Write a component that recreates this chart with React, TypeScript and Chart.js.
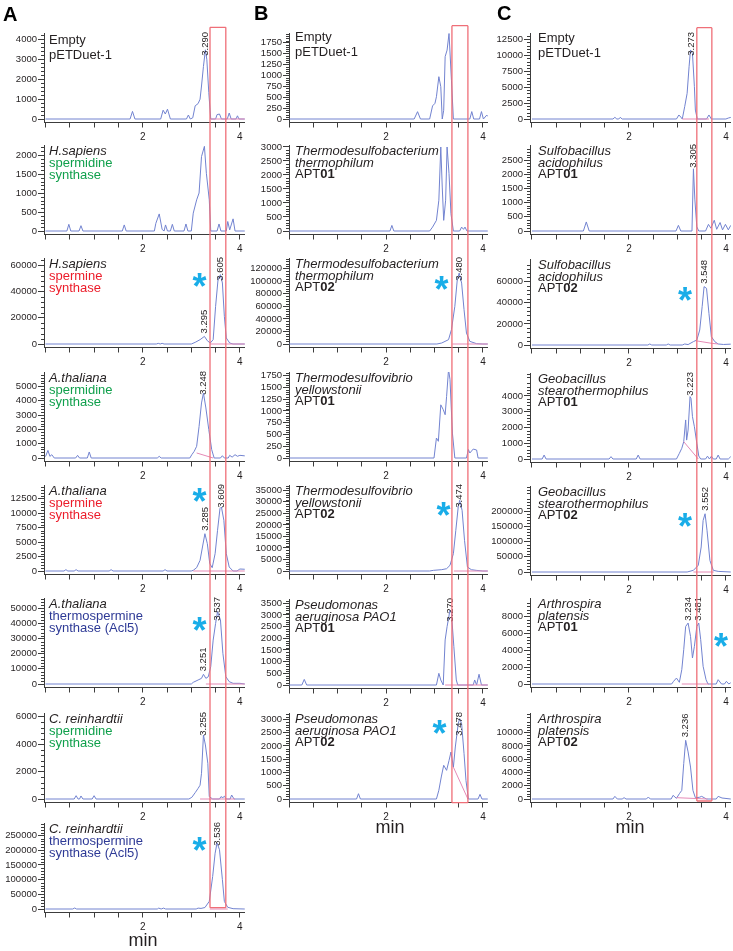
import React, { useEffect, useRef } from "react";
import { Chart, registerables } from "chart.js";

Chart.register(...registerables);

type Pt = [number, number];
type Peak = [number, string];
type Seg = [string, string];

// ================= Column A data =================
const A1_trace: Pt[] = [
  [0, 0], [1.74, 0], [1.79, 380], [1.84, 0],
  [2.37, 0], [2.42, 440], [2.465, 250], [2.51, 490], [2.57, 0],
  [2.9, 0], [2.94, 200], [2.98, 0],
  [3.03, 60], [3.08, 660], [3.14, 770], [3.18, 990], [3.21, 1650], [3.25, 2630], [3.29, 3460], [3.32, 2960], [3.36, 1320], [3.4, 0],
  [3.5, 0], [3.53, 220], [3.58, 250], [3.62, 0],
  [3.74, 0], [3.78, 300], [3.82, 0],
  [3.92, 0], [3.95, 160], [3.98, 0], [4.1, 0],
];
const A1_base: Pt[] = [[3.4, 0], [4.1, 0]];
const A1_peaks: Peak[] = [[3.29, "3.290"]];
const A1_yTicks = [0, 1000, 2000, 3000, 4000];

const A2_trace: Pt[] = [
  [0, 0], [0.44, 0], [0.48, 176], [0.52, 0],
  [0.69, 0], [0.73, 140], [0.77, 0],
  [1.58, 0], [1.62, 160], [1.66, 0],
  [2.24, 0], [2.27, 200], [2.34, 450], [2.4, 40], [2.44, 0], [2.47, 160], [2.51, 0], [2.57, 0], [2.61, 176], [2.65, 0],
  [2.85, 0], [2.89, 185], [2.93, 0],
  [3.0, 0], [3.04, 470], [3.11, 820], [3.16, 1000], [3.21, 1960], [3.27, 2230], [3.31, 1520], [3.37, 820], [3.4, 0],
  [3.53, 0], [3.57, 185], [3.61, 0],
  [3.72, 0], [3.75, 250], [3.79, 30], [3.86, 320], [3.9, 0], [4.1, 0],
];
const A2_peaks: Peak[] = [];
const A2_yTicks = [0, 500, 1000, 1500, 2000];

const A3_trace: Pt[] = [
  [0, 0], [2.28, 0], [2.32, 500], [2.36, 0], [2.4, 500], [2.44, 0],
  [3.0, 0], [3.08, 1270], [3.18, 3300], [3.27, 5800], [3.33, 2500], [3.39, 760],
  [3.45, 3300], [3.5, 28700], [3.55, 49000], [3.6, 52900], [3.64, 46500], [3.68, 21100], [3.72, 4600], [3.79, 760], [3.86, 0], [4.1, 0],
];
const A3_base: Pt[] = [[3.39, 0], [4.1, 0]];
const A3_peaks: Peak[] = [[3.27, "3.295"], [3.6, "3.605"]];
const A3_yTicks = [0, 20000, 40000, 60000];

const A4_trace: Pt[] = [
  [0, 100], [0.05, 530], [0.09, 116], [0.13, 230], [0.18, 0],
  [0.62, 0], [0.66, 186], [0.7, 0], [0.86, 0], [0.9, 420], [0.94, 0],
  [2.3, 0], [2.34, 116], [2.38, 0],
  [2.97, 0], [3.01, 230], [3.06, 465], [3.11, 814], [3.16, 2200], [3.21, 3840], [3.25, 4530], [3.3, 3490], [3.36, 1980], [3.42, 580], [3.47, 0],
  [3.6, 0], [3.64, 160], [3.68, 0], [3.76, 0], [3.79, 186], [3.84, 60], [3.9, 230], [3.95, 120], [4.0, 186], [4.1, 150],
];
const A4_base: Pt[] = [[3.11, 350], [3.45, 0]];
const A4_peaks: Peak[] = [[3.25, "3.248"]];
const A4_yTicks = [0, 1000, 2000, 3000, 4000, 5000];

const A5_trace: Pt[] = [
  [0, 0], [0.38, 0], [0.42, 230], [0.46, 0], [0.59, 0], [0.63, 230], [0.67, 0], [1.31, 0], [1.35, 230], [1.39, 0], [2.42, 0], [2.46, 230], [2.5, 0],
  [3.0, 0], [3.04, 115], [3.11, 576], [3.18, 1840], [3.23, 4150], [3.28, 6450], [3.33, 4720], [3.38, 1270], [3.43, 576],
  [3.49, 3000], [3.54, 7030], [3.59, 10800], [3.62, 11060], [3.67, 8760], [3.72, 3000], [3.78, 690], [3.86, 0], [3.94, 0], [4.0, 345], [4.1, 300],
];
const A5_base: Pt[] = [[3.04, 0], [4.1, 0]];
const A5_peaks: Peak[] = [[3.28, "3.285"], [3.62, "3.609"]];
const A5_yTicks = [0, 2500, 5000, 7500, 10000, 12500];

const A6_trace: Pt[] = [
  [0, 0], [3.0, 0], [3.04, 1100], [3.14, 2640], [3.21, 3740], [3.25, 6400], [3.3, 3740], [3.35, 4800], [3.4, 11450],
  [3.45, 29000], [3.5, 40000], [3.54, 47800], [3.6, 42300], [3.65, 20260], [3.71, 4850], [3.78, 1540], [3.86, 440], [4.0, 440], [4.1, 0],
];
const A6_base: Pt[] = [[3.3, 0], [4.1, 0]];
const A6_peaks: Peak[] = [[3.25, "3.251"], [3.54, "3.537"]];
const A6_yTicks = [0, 10000, 20000, 30000, 40000, 50000];

const A7_trace: Pt[] = [
  [0, 0], [0.59, 0], [0.63, 240], [0.67, 0], [0.7, 0], [0.73, 220], [0.77, 0], [0.96, 0], [1.0, 240], [1.04, 0],
  [2.95, 0], [3.01, 120], [3.08, 460], [3.14, 775], [3.18, 1000], [3.21, 1870], [3.25, 4650], [3.29, 3930], [3.34, 2600], [3.37, 170], [3.44, 0],
  [3.58, 0], [3.61, 170], [3.65, 100], [3.68, 200], [3.72, 0], [3.8, 0], [3.83, 290], [3.88, 0], [4.1, 0],
];
const A7_base: Pt[] = [[3.18, 0], [3.9, 0]];
const A7_peaks: Peak[] = [[3.25, "3.255"]];
const A7_yTicks = [0, 2000, 4000, 6000];

const A8_trace: Pt[] = [
  [0, 0], [0.56, 0], [0.6, 3400], [0.64, 0], [2.3, 0], [2.33, 3000], [2.38, 0], [2.43, 3000], [2.47, 0],
  [3.1, 0], [3.14, 3000], [3.2, 2000], [3.28, 5000], [3.37, 26000], [3.44, 111000], [3.49, 190000], [3.53, 225000],
  [3.58, 202000], [3.64, 100000], [3.68, 26000], [3.75, 5700], [3.86, 1100], [4.1, 0],
];
const A8_base: Pt[] = [[3.38, 0], [3.75, 0]];
const A8_peaks: Peak[] = [[3.53, "3.536"]];
const A8_yTicks = [0, 50000, 100000, 150000, 200000, 250000];

// ================= Column B data =================
const B1_trace: Pt[] = [
  [0, 0], [2.58, 0], [2.65, 168], [2.71, 0],
  [2.9, 0], [2.96, 300], [3.01, 360], [3.04, 510], [3.09, 970], [3.13, 740], [3.16, 0], [3.19, 200], [3.22, 1430], [3.26, 1580], [3.3, 1960], [3.35, 890], [3.39, 0],
  [3.73, 0], [3.77, 170], [3.81, 0], [3.93, 0], [3.97, 170], [4.01, 0], [4.08, 90], [4.1, 60],
];
const B1_peaks: Peak[] = [];
const B1_yTicks = [0, 250, 500, 750, 1000, 1250, 1500, 1750];

const B2_trace: Pt[] = [
  [0, 0], [2.08, 0], [2.12, 200], [2.16, 0],
  [2.9, 0], [2.96, 140], [3.04, 380], [3.09, 1100], [3.13, 3000], [3.16, 1570], [3.19, 380], [3.23, 1100], [3.26, 3000], [3.3, 2050], [3.34, 620], [3.39, 0],
  [3.52, 0], [3.56, 140], [3.6, 60], [3.63, 140], [3.67, 0], [4.1, 0],
];
const B2_peaks: Peak[] = [];
const B2_yTicks = [0, 500, 1000, 1500, 2000, 2500, 3000];

const B3_trace: Pt[] = [
  [0, 0], [3.05, 0], [3.15, 1600], [3.29, 6900], [3.35, 22800], [3.42, 60000], [3.47, 102000], [3.51, 113000],
  [3.56, 97000], [3.61, 54700], [3.66, 17500], [3.73, 4200], [3.87, 500], [4.0, 0], [4.1, 0],
];
const B3_base: Pt[] = [[3.37, 0], [4.1, 0]];
const B3_peaks: Peak[] = [[3.51, "3.480"]];
const B3_yTicks = [0, 20000, 40000, 60000, 80000, 100000, 120000];

const B4_trace: Pt[] = [
  [0, 0], [2.99, 0], [3.04, 425], [3.08, 355], [3.13, 1130], [3.18, 1030], [3.22, 920], [3.25, 1310], [3.29, 1880], [3.32, 1670], [3.37, 530], [3.42, 0],
  [3.66, 0], [3.7, 180], [3.73, 106], [3.8, 190], [3.87, 170], [3.9, 0], [4.1, 0],
];
const B4_peaks: Peak[] = [];
const B4_yTicks = [0, 250, 500, 750, 1000, 1250, 1500, 1750];

const B5_trace: Pt[] = [
  [0, 0], [2.9, 0], [2.98, 290], [3.15, 580], [3.25, 1000], [3.32, 2460], [3.39, 7500], [3.44, 17600], [3.49, 27800], [3.52, 30660],
  [3.57, 26300], [3.62, 13300], [3.68, 1740], [3.76, 580], [3.86, 290], [4.0, 0], [4.1, 0],
];
const B5_base: Pt[] = [[3.4, 0], [4.1, 0]];
const B5_peaks: Peak[] = [[3.52, "3.474"]];
const B5_yTicks = [0, 5000, 10000, 15000, 20000, 25000, 30000, 35000];

const B6_trace: Pt[] = [
  [0, 0], [0.26, 0], [0.31, 240], [0.36, 0],
  [3.04, 0], [3.09, 500], [3.13, 215], [3.18, 0], [3.22, 1930], [3.26, 2500], [3.32, 3210], [3.35, 3070], [3.4, 1640], [3.45, 215], [3.48, 0],
  [3.8, 0], [3.83, 215], [3.87, 0], [3.92, 460], [3.97, 0], [4.1, 0],
];
const B6_base: Pt[] = [[3.22, 0], [4.1, 0]];
const B6_peaks: Peak[] = [[3.32, "3.270"]];
const B6_yTicks = [0, 500, 1000, 1500, 2000, 2500, 3000, 3500];

const B7_trace: Pt[] = [
  [0, 0], [1.39, 0], [1.43, 200], [1.47, 0],
  [3.04, 0], [3.09, 330], [3.14, 830], [3.19, 1270], [3.25, 1080], [3.3, 1450], [3.34, 1770], [3.39, 1200], [3.43, 1960], [3.49, 2840],
  [3.52, 3030], [3.56, 2840], [3.61, 1710], [3.65, 700], [3.7, 0],
  [3.9, 0], [3.94, 175], [3.98, 0], [4.1, 0],
];
const B7_base: Pt[] = [[3.39, 1200], [3.69, 0]];
const B7_peaks: Peak[] = [[3.52, "3.478"]];
const B7_yTicks = [0, 500, 1000, 1500, 2000, 2500, 3000];

// ================= Column C data =================
const C1_trace: Pt[] = [
  [0, 0], [1.67, 0], [1.71, 260], [1.75, 0], [1.79, 0], [1.82, 260], [1.86, 0],
  [2.98, 0], [3.03, 630], [3.07, 300], [3.1, 0], [3.15, 1935], [3.2, 4030], [3.24, 8200], [3.27, 10830], [3.31, 10300], [3.35, 5070], [3.37, 1400], [3.41, 0],
  [3.6, 0], [3.65, 630], [3.7, 0], [4.0, 0], [4.05, 150], [4.1, 250],
];
const C1_base: Pt[] = [[3.1, 0], [3.65, 0]];
const C1_peaks: Peak[] = [[3.28, "3.273"]];
const C1_yTicks = [0, 2500, 5000, 7500, 10000, 12500];

const C2_trace: Pt[] = [
  [0, 0], [1.06, 0], [1.12, 320], [1.18, 0],
  [2.97, 0], [3.02, 200], [3.07, 0],
  [3.3, 0], [3.33, 2200], [3.36, 1100], [3.4, 150], [3.44, 0],
  [3.58, 0], [3.64, 235], [3.69, 100], [3.76, 380], [3.81, 60], [3.88, 300], [3.93, 40], [3.99, 235], [4.05, 40], [4.1, 200],
];
const C2_peaks: Peak[] = [[3.33, "3.305"]];
const C2_yTicks = [0, 500, 1000, 1500, 2000, 2500];

const C3_trace: Pt[] = [
  [0, 0], [2.39, 0], [2.43, 950], [2.47, 0], [2.77, 0], [2.81, 950], [2.85, 0],
  [3.1, 0], [3.15, 950], [3.22, 400], [3.33, 3200], [3.4, 4700], [3.46, 14200], [3.51, 36300], [3.55, 55300], [3.6, 53700],
  [3.65, 30000], [3.7, 7900], [3.77, 3200], [3.84, 950], [3.95, 500], [4.1, 800],
];
const C3_base: Pt[] = [[3.38, 4000], [3.72, 1500], [3.84, 950]];
const C3_peaks: Peak[] = [[3.55, "3.548"]];
const C3_yTicks = [0, 20000, 40000, 60000];

const C4_trace: Pt[] = [
  [0, 0], [0.21, 0], [0.25, 250], [0.29, 0], [1.59, 0], [1.63, 150], [1.67, 0], [2.15, 0], [2.19, 250], [2.23, 0],
  [2.98, 0], [3.04, 360], [3.09, 680], [3.13, 1100], [3.17, 2480], [3.19, 1200], [3.22, 1840], [3.26, 3960], [3.28, 3850], [3.31, 2690],
  [3.35, 2050], [3.4, 1000], [3.44, 190], [3.48, 0],
  [3.58, 0], [3.62, 180], [3.66, 0], [3.7, 180], [3.74, 0], [3.8, 0], [3.84, 250], [3.88, 0], [4.05, 0], [4.1, 150],
];
const C4_base: Pt[] = [[3.13, 1100], [3.43, 0]];
const C4_peaks: Peak[] = [[3.27, "3.223"]];
const C4_yTicks = [0, 1000, 2000, 3000, 4000];

const C5_trace: Pt[] = [
  [0, 0], [3.2, 0], [3.33, 5500], [3.43, 22000], [3.49, 82000], [3.53, 169000], [3.57, 191000], [3.61, 137000], [3.67, 38000], [3.74, 5500], [3.84, 2000], [4.1, 0],
];
const C5_base: Pt[] = [[3.33, 0], [3.75, 0]];
const C5_peaks: Peak[] = [[3.57, "3.552"]];
const C5_yTicks = [0, 50000, 100000, 150000, 200000];

const C6_trace: Pt[] = [
  [0, 0], [2.88, 0], [2.92, 315], [2.98, 700], [3.04, 200], [3.09, 1700], [3.13, 4050], [3.17, 6800], [3.22, 7200], [3.27, 5630], [3.31, 3070],
  [3.35, 4450], [3.4, 6800], [3.44, 7200], [3.48, 5240], [3.53, 2090], [3.59, 510], [3.63, 0],
  [3.8, 0], [3.84, 510], [3.91, 0], [3.97, 0], [4.01, 315], [4.06, 0], [4.1, 150],
];
const C6_base: Pt[] = [[3.09, 0], [3.65, 0]];
const C6_peaks: Peak[] = [[3.22, "3.234"], [3.44, "3.481"]];
const C6_yTicks = [0, 2000, 4000, 6000, 8000];

const C7_trace: Pt[] = [
  [0, 0], [1.67, 0], [1.71, 400], [1.76, 0], [1.86, 0], [1.9, 200], [1.94, 0], [2.36, 0], [2.4, 300], [2.44, 0],
  [2.87, 0], [2.91, 550], [2.98, 100], [3.04, 800], [3.09, 1300], [3.13, 5330], [3.17, 8850], [3.22, 7100], [3.27, 4820], [3.32, 1300], [3.37, 200],
  [3.45, 250], [3.5, 400], [3.55, 200], [3.6, 0], [3.8, 0], [3.84, 400], [3.92, 150], [4.1, 0],
];
const C7_base: Pt[] = [[2.98, 200], [3.62, 0]];
const C7_peaks: Peak[] = [[3.17, "3.236"]];
const C7_yTicks = [0, 2000, 4000, 6000, 8000, 10000];

const X_TICKS = [0, 0.5, 1, 1.5, 2, 2.5, 3, 3.5, 4];
const X_LABELED = [2, 4];

// ================= styles =================
const FONT = '"Liberation Sans", Arial, Helvetica, sans-serif';
const TRACE = "#7283d0";
const PINK = "#e58ab6";
const RECT = "#ef6f78";
const AXIS = "#3c3c3c";
const TXT = "#231f20";
const GREEN = "#10a04c";
const RED = "#ec1c2a";
const BLUE = "#2e3a96";
const CYAN = "#19ade8";

interface Panel {
  trace: Pt[];
  base?: Pt[];
  peaks: Peak[];
  yMax: number;
  yTicks: number[];
  label: Seg[][];
  star?: [number, number];
}

interface Column {
  key: string;
  canvasLeft: number;
  canvasW: number;
  axisW: number;
  xMin: number;
  xMax: number;
  y0: number[];
  rect: [number, number];
  rectTop: number;
  rectBottom: number;
  labelX: number;
  firstLabelTop: number;
  lineH: number;
  letter: [number, number];
  minPos: [number, number];
  panels: Panel[];
}

const EMPTY: Seg[][] = [[["Empty", "n"]], [["pETDuet-1", "n"]]];
const apt = (n: string): Seg[] => [["APT", "n"], [n, "b"]];

const COLS: Column[] = [
  {
    key: "A", canvasLeft: 0, canvasW: 245, axisW: 44, xMin: -0.031, xMax: 4.105,
    y0: [119, 231, 344, 458, 571, 684, 799, 909],
    rect: [3.385, 3.71], rectTop: 27.3, rectBottom: 907.7,
    labelX: 49, firstLabelTop: 32, lineH: 12.2, letter: [3, 4], minPos: [143, 931],
    panels: [
      { trace: A1_trace, base: A1_base, peaks: A1_peaks, yMax: 4300, yTicks: A1_yTicks, label: EMPTY },
      { trace: A2_trace, peaks: A2_peaks, yMax: 2265, yTicks: A2_yTicks, label: [[["H.sapiens", "i"]], [["spermidine", "g"]], [["synthase", "g"]]] },
      { trace: A3_trace, base: A3_base, peaks: A3_peaks, yMax: 65570, yTicks: A3_yTicks, label: [[["H.sapiens", "i"]], [["spermine", "r"]], [["synthase", "r"]]], star: [199.5, 279] },
      { trace: A4_trace, base: A4_base, peaks: A4_peaks, yMax: 6000, yTicks: A4_yTicks, label: [[["A.thaliana", "i"]], [["spermidine", "g"]], [["synthase", "g"]]] },
      { trace: A5_trace, base: A5_base, peaks: A5_peaks, yMax: 14870, yTicks: A5_yTicks, label: [[["A.thaliana", "i"]], [["spermine", "r"]], [["synthase", "r"]]], star: [199.5, 494] },
      { trace: A6_trace, base: A6_base, peaks: A6_peaks, yMax: 56800, yTicks: A6_yTicks, label: [[["A.thaliana", "i"]], [["thermospermine", "u"]], [["synthase (Acl5)", "u"]]], star: [199.5, 622.5] },
      { trace: A7_trace, base: A7_base, peaks: A7_peaks, yMax: 6255, yTicks: A7_yTicks, label: [[["C. reinhardtii", "i"]], [["spermidine", "g"]], [["synthase", "g"]]] },
      { trace: A8_trace, base: A8_base, peaks: A8_peaks, yMax: 293000, yTicks: A8_yTicks, label: [[["C. reinhardtii", "i"]], [["thermospermine", "u"]], [["synthase (Acl5)", "u"]]], star: [199.5, 842.5] },
    ],
  },
  {
    key: "B", canvasLeft: 245, canvasW: 243, axisW: 44, xMin: -0.005, xMax: 4.105,
    y0: [119, 231, 344, 458, 571, 685, 799],
    rect: [3.36, 3.69], rectTop: 25.7, rectBottom: 802.7,
    labelX: 295, firstLabelTop: 29, lineH: 11.6, letter: [254, 3], minPos: [390, 818],
    panels: [
      { trace: B1_trace, peaks: B1_peaks, yMax: 1972, yTicks: B1_yTicks, label: EMPTY },
      { trace: B2_trace, peaks: B2_peaks, yMax: 3071, yTicks: B2_yTicks, label: [[["Thermodesulfobacterium", "i"]], [["thermophilum", "i"]], apt("01")] },
      { trace: B3_trace, base: B3_base, peaks: B3_peaks, yMax: 137000, yTicks: B3_yTicks, label: [[["Thermodesulfobacterium", "i"]], [["thermophilum", "i"]], apt("02")], star: [441.5, 281.5] },
      { trace: B4_trace, peaks: B4_peaks, yMax: 1828, yTicks: B4_yTicks, label: [[["Thermodesulfovibrio", "i"]], [["yellowstonii", "i"]], apt("01")] },
      { trace: B5_trace, base: B5_base, peaks: B5_peaks, yMax: 37300, yTicks: B5_yTicks, label: [[["Thermodesulfovibrio", "i"]], [["yellowstonii", "i"]], apt("02")], star: [443.5, 507.5] },
      { trace: B6_trace, base: B6_base, peaks: B6_peaks, yMax: 3685, yTicks: B6_yTicks, label: [[["Pseudomonas", "i"]], [["aeruginosa PAO1", "i"]], apt("01")] },
      { trace: B7_trace, base: B7_base, peaks: B7_peaks, yMax: 3241, yTicks: B7_yTicks, label: [[["Pseudomonas", "i"]], [["aeruginosa PAO1", "i"]], apt("02")], star: [439.5, 726] },
    ],
  },
  {
    key: "C", canvasLeft: 488, canvasW: 243, axisW: 42, xMin: -0.041, xMax: 4.105,
    y0: [119, 231, 345, 459, 572, 684, 799],
    rect: [3.4, 3.71], rectTop: 27.7, rectBottom: 801,
    labelX: 538, firstLabelTop: 29.5, lineH: 11.6, letter: [497, 3], minPos: [630, 818],
    panels: [
      { trace: C1_trace, base: C1_base, peaks: C1_peaks, yMax: 13490, yTicks: C1_yTicks, label: EMPTY },
      { trace: C2_trace, peaks: C2_peaks, yMax: 3041, yTicks: C2_yTicks, label: [[["Sulfobacillus", "i"]], [["acidophilus", "i"]], apt("01")] },
      { trace: C3_trace, base: C3_base, peaks: C3_peaks, yMax: 81500, yTicks: C3_yTicks, label: [[["Sulfobacillus", "i"]], [["acidophilus", "i"]], apt("02")], star: [685, 292.5] },
      { trace: C4_trace, base: C4_base, peaks: C4_peaks, yMax: 5460, yTicks: C4_yTicks, label: [[["Geobacillus", "i"]], [["stearothermophilus", "i"]], apt("01")] },
      { trace: C5_trace, base: C5_base, peaks: C5_peaks, yMax: 282000, yTicks: C5_yTicks, label: [[["Geobacillus", "i"]], [["stearothermophilus", "i"]], apt("02")], star: [685, 519] },
      { trace: C6_trace, base: C6_base, peaks: C6_peaks, yMax: 10160, yTicks: C6_yTicks, label: [[["Arthrospira", "i"]], [["platensis", "i"]], apt("01")], star: [721, 639] },
      { trace: C7_trace, base: C7_base, peaks: C7_peaks, yMax: 12970, yTicks: C7_yTicks, label: [[["Arthrospira", "i"]], [["platensis", "i"]], apt("02")] },
    ],
  },
];

function geom(col: Column, i: number) {
  const last = col.panels.length - 1;
  const y0 = col.y0[i];
  const cTop = i === 0 ? y0 - 96 : y0 - 88;
  const cBot = i < last ? col.y0[i + 1] - 88 : y0 + 26;
  return { last, y0, cTop, cH: cBot - cTop };
}

function PanelCanvas({ col, i }: { col: Column; i: number }) {
  const ref = useRef<HTMLCanvasElement | null>(null);
  const p = col.panels[i];
  const { last, y0, cTop, cH } = geom(col, i);

  useEffect(() => {
    const canvas = ref.current;
    if (!canvas) return;
    const padTop = y0 - 86 - cTop;
    const axisY = y0 + 3.5 - cTop;
    const xAxisH = cH - axisY;
    const yMin = (-p.yMax * 3.5) / 86;

    const deco = {
      id: "deco",
      afterDraw(chart: any) {
        const ctx: CanvasRenderingContext2D = chart.ctx;
        const xs = chart.scales.x;
        const ys = chart.scales.y;
        const ca = chart.chartArea;
        ctx.save();
        // minor y ticks
        ctx.strokeStyle = AXIS;
        ctx.lineWidth = 1;
        const step = p.yTicks[1] - p.yTicks[0];
        const minor = step / 5;
        ctx.beginPath();
        for (let k = 1; k * minor <= p.yMax; k++) {
          if (k % 5 === 0) continue;
          const py = Math.round(ys.getPixelForValue(k * minor)) + 0.5;
          ctx.moveTo(ca.left - 3, py);
          ctx.lineTo(ca.left, py);
        }
        ctx.stroke();
        // peak labels
        ctx.fillStyle = TXT;
        ctx.font = `9.5px ${FONT}`;
        ctx.textAlign = "left";
        ctx.textBaseline = "middle";
        for (const [t, text] of p.peaks) {
          let ym = 0;
          for (const [x, y] of p.trace) if (Math.abs(x - t) <= 0.035 && y > ym) ym = y;
          const xp = xs.getPixelForValue(t);
          const yp = ys.getPixelForValue(ym);
          const w = ctx.measureText(text).width;
          let bottom = yp - 3;
          if (bottom - w < ca.top - 1) bottom = ca.top - 1 + w;
          ctx.save();
          ctx.translate(xp, bottom);
          ctx.rotate(-Math.PI / 2);
          ctx.fillText(text, 0, 0);
          ctx.restore();
        }
        // red window
        const xl = xs.getPixelForValue(col.rect[0]);
        const xr = xs.getPixelForValue(col.rect[1]);
        const top = i === 0 ? col.rectTop - cTop : 0;
        const bot = i === last ? col.rectBottom - cTop : cH;
        ctx.strokeStyle = RECT;
        ctx.lineWidth = 1.3;
        ctx.beginPath();
        ctx.moveTo(xl, top);
        ctx.lineTo(xl, bot);
        ctx.moveTo(xr, top);
        ctx.lineTo(xr, bot);
        if (i === 0) {
          ctx.moveTo(xl, top);
          ctx.lineTo(xr, top);
        }
        if (i === last) {
          ctx.moveTo(xl, bot);
          ctx.lineTo(xr, bot);
        }
        ctx.stroke();
        ctx.restore();
      },
    };

    const datasets: any[] = [
      {
        data: p.trace.map(([x, y]) => ({ x, y })),
        borderColor: TRACE,
        borderWidth: 1,
        pointRadius: 0,
        tension: 0,
        order: 2,
      },
    ];
    if (p.base) {
      datasets.push({
        data: p.base.map(([x, y]) => ({ x, y })),
        borderColor: PINK,
        borderWidth: 1,
        pointRadius: 0,
        tension: 0,
        order: 1,
      });
    }

    const chart = new Chart(canvas, {
      type: "line",
      data: { datasets },
      options: {
        animation: false,
        responsive: false,
        maintainAspectRatio: false,
        devicePixelRatio: 1,
        layout: { padding: { top: padTop, left: 0, right: 0, bottom: 0 } },
        plugins: { legend: { display: false }, tooltip: { enabled: false } },
        scales: {
          x: {
            type: "linear",
            min: col.xMin,
            max: col.xMax,
            afterBuildTicks: (s: any) => {
              s.ticks = X_TICKS.map((v) => ({ value: v }));
            },
            afterFit: (s: any) => {
              s.height = xAxisH;
              s.paddingLeft = 0;
              s.paddingRight = 0;
            },
            ticks: {
              autoSkip: false,
              maxRotation: 0,
              padding: 4,
              color: TXT,
              font: { family: FONT, size: 10 },
              callback: (v: any) => (X_LABELED.includes(Number(v)) ? String(v) : ""),
            },
            grid: { drawOnChartArea: false, drawTicks: true, tickLength: 5, color: AXIS },
            border: { color: AXIS, width: 1 },
          },
          y: {
            type: "linear",
            min: yMin,
            max: p.yMax,
            afterBuildTicks: (s: any) => {
              s.ticks = p.yTicks.map((v) => ({ value: v }));
            },
            afterFit: (s: any) => {
              s.width = col.axisW;
              s.paddingTop = 0;
              s.paddingBottom = 0;
            },
            ticks: {
              autoSkip: false,
              padding: 1,
              color: TXT,
              font: { family: FONT, size: 9.5 },
              callback: (v: any) => String(v),
            },
            grid: { drawOnChartArea: false, drawTicks: true, tickLength: 6, color: AXIS },
            border: { color: AXIS, width: 1 },
          },
        },
      },
      plugins: [deco],
    } as any);
    return () => chart.destroy();
  }, []);

  return (
    <canvas
      ref={ref}
      width={col.canvasW}
      height={cH}
      style={{ position: "absolute", left: col.canvasLeft, top: cTop, width: col.canvasW, height: cH }}
    />
  );
}

function segStyle(s: string): React.CSSProperties {
  switch (s) {
    case "i": return { fontStyle: "italic", color: TXT };
    case "g": return { color: GREEN };
    case "r": return { color: RED };
    case "u": return { color: BLUE };
    case "b": return { fontWeight: "bold", color: TXT };
    default: return { color: TXT };
  }
}

export default function App() {
  return (
    <div
      style={{
        position: "absolute",
        left: 0,
        top: 0,
        width: 733,
        height: 951,
        background: "#fff",
        fontFamily: FONT,
        overflow: "hidden",
      }}
    >
      {COLS.map((col) =>
        col.panels.map((_, i) => <PanelCanvas key={col.key + i} col={col} i={i} />)
      )}
      {COLS.map((col) =>
        col.panels.map((p, i) => (
          <div
            key={"lab" + col.key + i}
            style={{
              position: "absolute",
              left: col.labelX,
              top: i === 0 ? col.firstLabelTop : col.y0[i] - 86,
              fontSize: 13,
              lineHeight: i === 0 ? "15px" : `${col.lineH}px`,
              whiteSpace: "nowrap",
            }}
          >
            {p.label.map((line, k) => (
              <div key={k}>
                {line.map(([t, s], j) => (
                  <span key={j} style={segStyle(s)}>{t}</span>
                ))}
              </div>
            ))}
          </div>
        ))
      )}
      {COLS.map((col) =>
        col.panels.map((p, i) =>
          p.star ? (
            <div
              key={"star" + col.key + i}
              style={{
                position: "absolute",
                left: p.star[0] - 20,
                top: p.star[1] - 10,
                width: 40,
                textAlign: "center",
                fontSize: 36,
                lineHeight: "36px",
                fontWeight: "bold",
                color: CYAN,
              }}
            >
              *
            </div>
          ) : null
        )
      )}
      {COLS.map((col) => (
        <div
          key={"letter" + col.key}
          style={{
            position: "absolute",
            left: col.letter[0],
            top: col.letter[1],
            fontSize: 20,
            lineHeight: "20px",
            fontWeight: "bold",
            color: "#000",
          }}
        >
          {col.key}
        </div>
      ))}
      {COLS.map((col) => (
        <div
          key={"min" + col.key}
          style={{
            position: "absolute",
            left: col.minPos[0] - 30,
            top: col.minPos[1],
            width: 60,
            textAlign: "center",
            fontSize: 18,
            lineHeight: "18px",
            color: TXT,
          }}
        >
          min
        </div>
      ))}
    </div>
  );
}
